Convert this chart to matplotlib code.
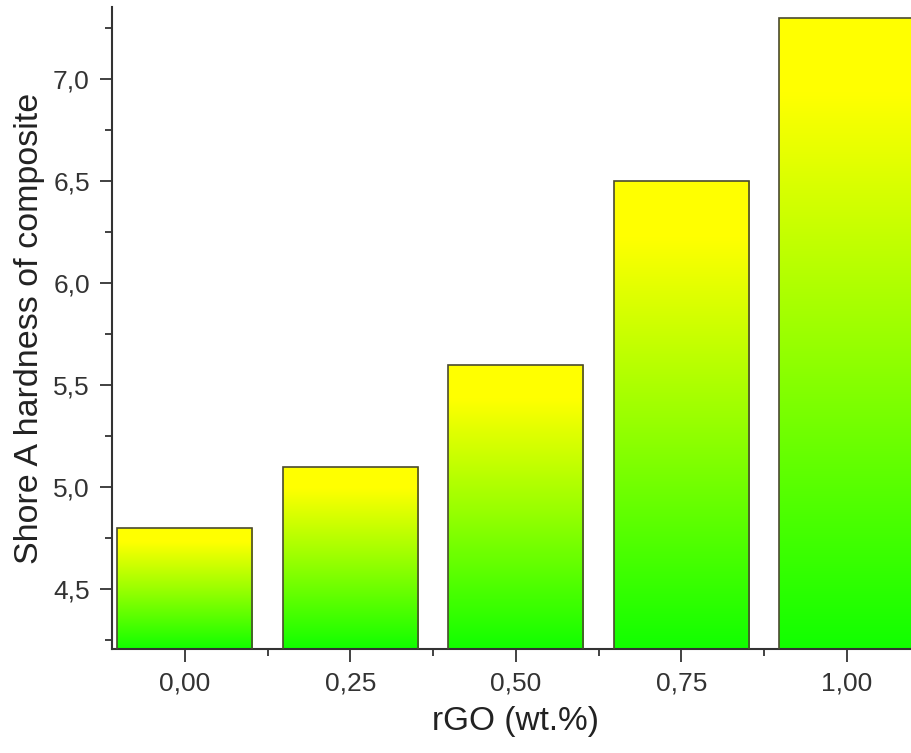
import matplotlib
matplotlib.use('Agg')
import matplotlib.pyplot as plt
import numpy as np
from matplotlib.colors import LinearSegmentedColormap

# data
rgo = [0.00, 0.25, 0.50, 0.75, 1.00]
hardness = [4.8, 5.1, 5.6, 6.5, 7.3]
x_labels = ['0,00', '0,25', '0,50', '0,75', '1,00']
y_ticks = [4.5, 5.0, 5.5, 6.0, 6.5, 7.0]
y_labels = ['4,5', '5,0', '5,5', '6,0', '6,5', '7,0']

plt.rcParams['font.family'] = ['Liberation Sans', 'DejaVu Sans']

ymin, ymax = 4.206, 7.353
xmin, xmax = -0.110, 1.1105
bar_w = 0.204

fig = plt.figure(figsize=(9.12, 7.53), dpi=100)
ax = fig.add_axes([112/912, 104/753, 808/912, 642/753])

cmap = LinearSegmentedColormap.from_list(
    'yg', [(0.0, '#11FF00'), (0.5, '#9CFF00'), (0.88, '#FFFF00'), (1.0, '#FFFF00')])
grad = np.linspace(0, 1, 256).reshape(-1, 1)

bars = ax.bar(rgo, hardness, width=bar_w, facecolor='none',
              edgecolor='#4a4a30', linewidth=1.2, zorder=3)
for b, x, h in zip(bars, rgo, hardness):
    im = ax.imshow(grad, extent=[x - bar_w/2, x + bar_w/2, ymin, h],
                   origin='lower', cmap=cmap, aspect='auto', zorder=2)
    im.set_clip_path(b)

ax.set_xlim(xmin, xmax)
ax.set_ylim(ymin, ymax)

ax.set_xticks(rgo, x_labels)
ax.set_xticks([0.125, 0.375, 0.625, 0.875], minor=True)
ax.set_yticks(y_ticks, y_labels)
ax.set_yticks([4.25, 4.75, 5.25, 5.75, 6.25, 6.75, 7.25], minor=True)

ax.tick_params(which='major', direction='out', length=9, width=1.3,
               labelsize=19, pad=7, color='#333333', labelcolor='#333333')
ax.tick_params(which='minor', direction='out', length=5, width=1.3,
               color='#333333')

for s in ['top', 'right']:
    ax.spines[s].set_visible(False)
for s in ['left', 'bottom']:
    ax.spines[s].set_linewidth(1.5)
    ax.spines[s].set_color('#333333')

ax.set_ylabel('Shore A hardness of composite', fontsize=24.5, color='#222222', labelpad=6)
ax.set_xlabel('rGO (wt.%)', fontsize=24, color='#222222', labelpad=8)

fig.savefig('out.png', dpi=100)
